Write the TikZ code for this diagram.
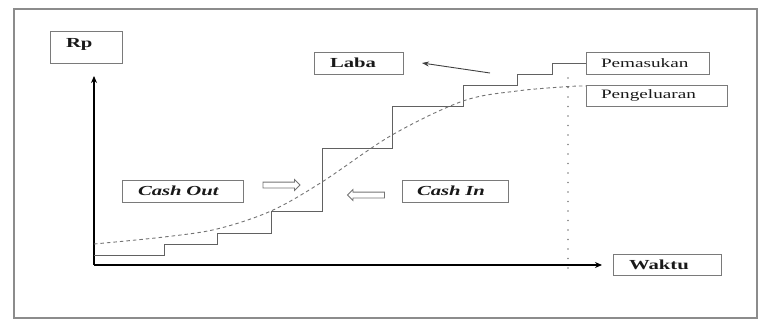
\documentclass[tikz,border=0pt]{standalone}
\usepackage{fontspec}
\setmainfont[FakeStretch=1.5]{Liberation Serif}
\usetikzlibrary{shapes.arrows,arrows.meta}
\definecolor{boxline}{gray}{0.48}
\definecolor{txt}{gray}{0.1}
\begin{document}
\begin{tikzpicture}[x=1pt,y=-1pt,
  lbl/.style={draw=boxline, line width=1pt, rectangle, inner ysep=0pt, align=left, text=txt},
  boldlbl/.style={lbl, font=\fontsize{13.8}{15}\selectfont\bfseries},
  itlbl/.style={lbl, font=\fontsize{13.8}{15}\selectfont\bfseries\itshape},
  reglbl/.style={lbl, font=\fontsize{12.8}{14}\selectfont},
  axis/.style={line width=1.6pt, black, -{Stealth[length=7pt,width=6pt]}},
  stair/.style={line width=0.9pt, black!62},
  expense/.style={line width=0.9pt, black!55, dash pattern=on 3.5pt off 3pt},
  hollow/.style={single arrow, draw=black!55, line width=0.8pt, inner xsep=0pt, inner ysep=2.5pt,
                 single arrow head extend=2.5pt, minimum height=37pt}
]
\useasboundingbox (0,0) rectangle (773,324);
% outer frame
\draw[black!45, line width=1.3pt] (14,9) rectangle (757,318);

% labels
\node[boldlbl, minimum width=72pt, minimum height=32pt, inner xsep=16pt, text width=40pt,
      text height=16pt, text depth=16pt] (rp) at (86,47) {Rp};
\node[boldlbl, minimum width=89pt, minimum height=22pt, inner xsep=16pt, text width=57pt] (laba) at (358.5,63) {Laba};
\node[reglbl, minimum width=123pt, minimum height=22pt, inner xsep=15pt, text width=93pt] (pem) at (647.5,63) {Pemasukan};
\node[reglbl, minimum width=141pt, minimum height=21pt, inner xsep=15pt, text width=111pt] (peng) at (656.5,95.5) {Pengeluaran};
\node[boldlbl, minimum width=108pt, minimum height=21pt, inner xsep=16pt, text width=76pt] (waktu) at (667,264.5) {Waktu};
\node[itlbl, minimum width=121pt, minimum height=22pt, inner xsep=16pt, text width=89pt] (cout) at (182.5,191) {Cash Out};
\node[itlbl, minimum width=106pt, minimum height=22pt, inner xsep=15pt, text width=76pt] (cin) at (455,191) {Cash In};

% hollow arrows
\node[hollow] (aout) at (280,185) {};
\node[hollow, shape border rotate=180] (ain) at (367.5,195) {};

% axes
\coordinate (O) at (94,265);
\coordinate (ytop) at (94,76);
\coordinate (xend) at (602,265);
\draw[axis] (O) -- (ytop);
\draw[axis] (O) -- (xend);

% dotted end-of-period line
\coordinate (dtop) at (568,78);
\coordinate (dbot) at (568,277);
\draw[black!50, line width=1.6pt, line cap=round, dash pattern=on 0pt off 9.5pt] (dtop) -- (dbot);

% income staircase
\coordinate (s0) at (94,255);
\draw[stair] (s0) -- (164,255) -- (164,244) -- (217,244) -- (217,233) -- (271,233) -- (271,211)
  -- (322,211) -- (322,148) -- (392,148) -- (392,106) -- (463,106) -- (463,85) -- (517,85)
  -- (517,74) -- (552,74) -- (552,63) -- (pem.west);

% expense curve
\draw[expense] plot[smooth, tension=0.55] coordinates {(94,244) (164,237) (217,229) (271,211) (322,182) (392,135) (463,101) (517,91) (569,86.5) (586,86)};

% profit arrow
\coordinate (ltail) at (490,73);
\coordinate (lhead) at (422,63);
\draw[black!75, line width=0.9pt, -{Stealth[length=7pt,width=5pt]}] (ltail) -- (lhead);
\end{tikzpicture}
\end{document}
